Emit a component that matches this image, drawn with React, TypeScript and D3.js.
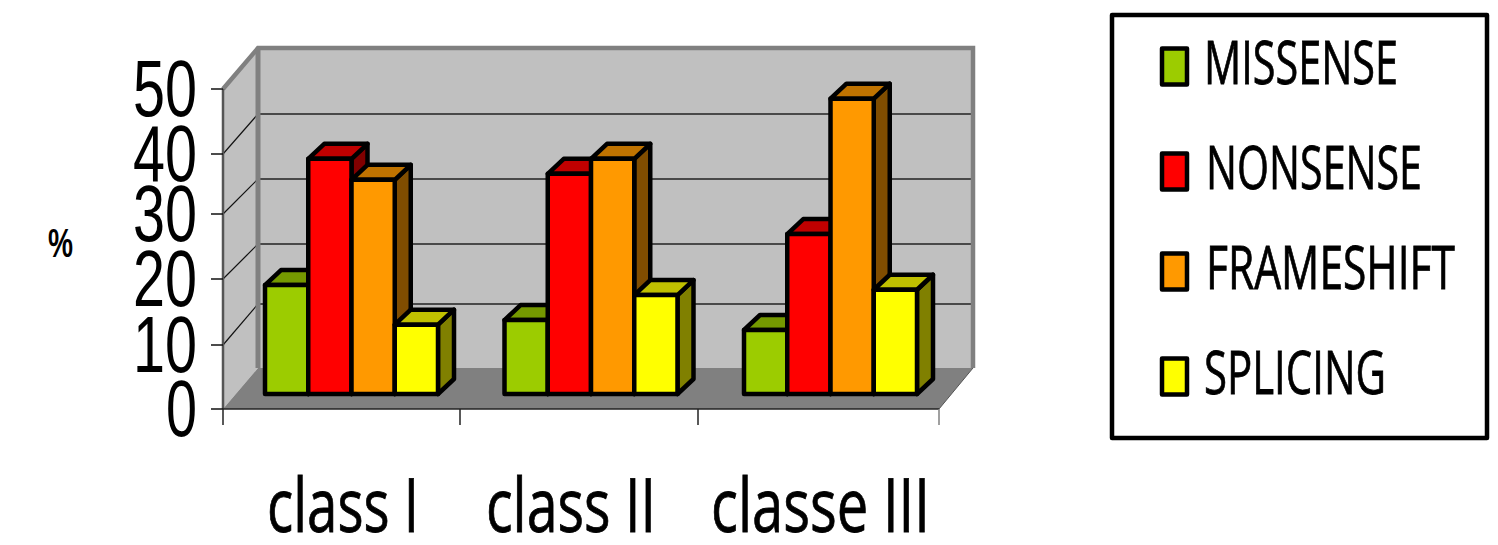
import React from "react";
import * as d3 from "d3";

const categories = ["class I", "class II", "classe III"];
const seriesNames = ["MISSENSE", "NONSENSE", "FRAMESHIFT", "SPLICING"];
const missense = [16.8, 11.5, 10];
const nonsense = [36.7, 34.2, 24.6];
const frameshift = [33.2, 36.7, 46.2];
const splicing = [10.8, 15.3, 16.1];
const seriesValues = [missense, nonsense, frameshift, splicing];
const yTicks = [0, 10, 20, 30, 40, 50];

const frontColors = ["#9ccc00", "#ff0000", "#ff9900", "#ffff00"];
const topColors = ["#759900", "#c00000", "#c07300", "#c0c000"];
const sideColors = ["#4e6600", "#800000", "#804d00", "#808000"];

const W = 1498;
const H = 545;
const left = 223;
const right = 939;
const backLeft = 258;
const backRight = 973;
const barDx = 16;
const barDy = 15;
const grey = "#808080";

// Front edge and back wall carry their own, slightly uneven, tick spacing.
const y = d3.scaleLinear().domain(yTicks).range([409, 345, 279, 214, 154, 89]);
const yBack = d3.scaleLinear().domain(yTicks).range([368, 304, 244, 179, 114, 48]);
const xTicks = d3.scaleLinear().domain([0, 1, 2, 3]).range([left, 460, 698, right]);
const xGroup = d3.scaleBand<string>().domain(categories).range([265, 265 + 3 * 239.5]);
const xSeries = d3.scaleBand<string>().domain(seriesNames).range([0, 173]);
const line = d3.line();
const poly = (pts: [number, number][]) => line(pts) + "Z";

// Text is squeezed horizontally to a fixed run length, as in the condensed slide type.
function Squeezed(p: {
  x: number;
  y: number;
  w: number;
  size: number;
  weight?: number;
  family?: string;
  thicken?: number;
  children: string;
}) {
  return (
    <text
      x={p.x}
      y={p.y}
      fontFamily={p.family ?? "'Open Sans', sans-serif"}
      fontSize={p.size}
      fontWeight={p.weight ?? 400}
      fill="#000"
      stroke="#000"
      strokeWidth={p.thicken ?? 0}
      textLength={p.w}
      lengthAdjust="spacingAndGlyphs"
    >
      {p.children}
    </text>
  );
}

const catLabels = [
  { x: 267, w: 152 },
  { x: 486, w: 170 },
  { x: 711, w: 219 },
];
const legendRows = [
  { cy: 66.5, tx: 1204, tw: 194, base: 84 },
  { cy: 171.5, tx: 1206, tw: 216, base: 189 },
  { cy: 271.5, tx: 1206, tw: 249, base: 289 },
  { cy: 376.5, tx: 1204, tw: 182, base: 394 },
];
const AXIS_FONT = "'Liberation Sans', Arial, sans-serif";

export default function App() {
  const top = y(50);
  const bottom = y(0);
  const backTop = yBack(50);
  const backBottom = yBack(0);
  return (
    <svg
      width={W}
      height={H}
      viewBox={`0 0 ${W} ${H}`}
      style={{ position: "absolute", left: 0, top: 0, display: "block" }}
    >
      <rect width={W} height={H} fill="#fff" />

      {/* walls and floor of the box */}
      <path d={poly([[backLeft, backTop], [backRight, backTop], [backRight, backBottom], [backLeft, backBottom]])} fill="#c0c0c0" />
      <path d={poly([[left, top], [backLeft, backTop], [backLeft, backBottom], [left, bottom]])} fill="#c0c0c0" />
      <path d={poly([[left, bottom], [backLeft, backBottom], [backRight, backBottom], [right, bottom]])} fill={grey} />

      {/* gridlines wrapping from the side wall onto the back wall */}
      {yTicks.slice(1, -1).map((t) => (
        <g key={t}>
          <line x1={left} y1={y(t)} x2={backLeft} y2={yBack(t)} stroke="#111" strokeWidth={1.2} />
          <line x1={backLeft} y1={yBack(t)} x2={backRight} y2={yBack(t)} stroke="#222" strokeWidth={1.4} />
        </g>
      ))}

      {/* box edges */}
      <path d={line([[left, top], [backLeft, backTop], [backRight, backTop], [backRight, backBottom]]) ?? ""} fill="none" stroke={grey} strokeWidth={4.5} />
      <line x1={backLeft} y1={backTop} x2={backLeft} y2={backBottom} stroke={grey} strokeWidth={5} />
      <line x1={left} y1={top} x2={left} y2={bottom} stroke="#555" strokeWidth={2.5} />
      <line x1={right} y1={bottom} x2={backRight} y2={backBottom} stroke="#555" strokeWidth={1} />
      <line x1={left} y1={bottom} x2={right} y2={bottom} stroke="#222" strokeWidth={1.5} />

      {/* axis ticks */}
      {yTicks.map((t) => (
        <line key={t} x1={211} y1={y(t)} x2={left} y2={y(t)} stroke="#111" strokeWidth={1.5} />
      ))}
      {[0, 1, 2, 3].map((i) => (
        <line key={i} x1={xTicks(i)} y1={bottom} x2={xTicks(i)} y2={bottom + 16} stroke={i === 3 ? grey : "#222"} strokeWidth={1.5} />
      ))}

      {/* bars, painted left to right so each one overlaps its neighbour's side */}
      {categories.map((c, ci) => {
        const groupLeft = xGroup(c)!;
        const base = y(0) - barDy;
        return (
          <g key={c} strokeLinejoin="round" stroke="#000" strokeWidth={4.5}>
            {seriesNames.map((s, si) => {
              const x0 = groupLeft + xSeries(s)!;
              const x1 = x0 + xSeries.bandwidth();
              const yt = y(seriesValues[si][ci]) - barDy;
              return (
                <g key={s}>
                  <path
                    d={poly([[x1, yt], [x1 + barDx, yt - barDy], [x1 + barDx, base - barDy], [x1, base]])}
                    fill={sideColors[si]}
                  />
                  <path
                    d={poly([[x0, yt], [x0 + barDx, yt - barDy], [x1 + barDx, yt - barDy], [x1, yt]])}
                    fill={topColors[si]}
                  />
                  <path d={poly([[x0, yt], [x1, yt], [x1, base], [x0, base]])} fill={frontColors[si]} />
                </g>
              );
            })}
          </g>
        );
      })}

      {/* value axis labels */}
      {yTicks.map((t) => (
        <Squeezed key={t} x={t === 0 ? 166 : 133} y={y(t) + 27} w={t === 0 ? 31 : 64} size={80} family={AXIS_FONT}>
          {String(t)}
        </Squeezed>
      ))}
      <Squeezed x={48} y={257} w={25} size={40} weight={700} family={AXIS_FONT}>%</Squeezed>

      {/* category labels */}
      {categories.map((c, i) => (
        <Squeezed key={c} x={catLabels[i].x} y={532} w={catLabels[i].w} size={75} thicken={0.8}>
          {c}
        </Squeezed>
      ))}

      {/* legend */}
      <rect x={1112} y={15} width={375} height={423} fill="#fff" stroke="#000" strokeWidth={4.5} strokeLinejoin="round" />
      {seriesNames.map((s, i) => (
        <g key={s}>
          <rect x={1162} y={legendRows[i].cy - 18} width={25} height={36} fill={frontColors[i]} stroke="#000" strokeWidth={4.5} strokeLinejoin="round" />
          <Squeezed x={legendRows[i].tx} y={legendRows[i].base} w={legendRows[i].tw} size={61} thicken={0.8}>
            {s}
          </Squeezed>
        </g>
      ))}
    </svg>
  );
}
